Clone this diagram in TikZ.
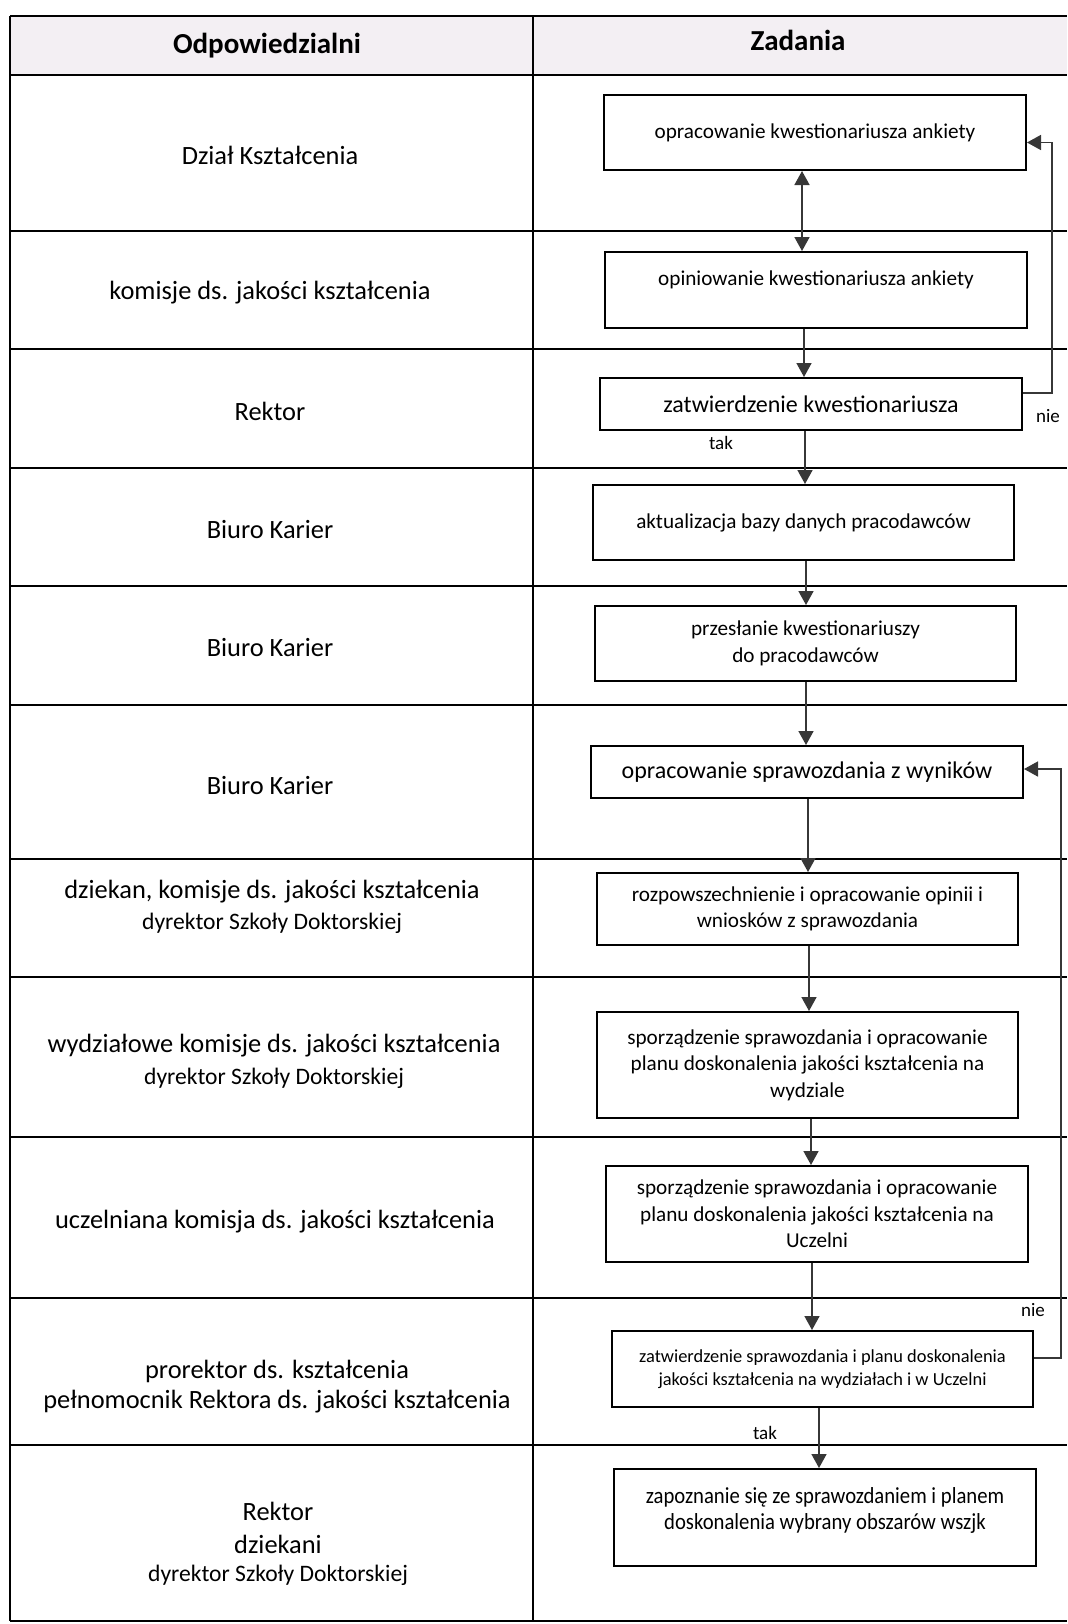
\documentclass[tikz,border=0pt]{standalone}
\usepackage{fontspec}
\setmainfont{Carlito}
\newfontfamily\narrowfont[FakeStretch=0.9]{Carlito}
\usetikzlibrary{arrows.meta}
\definecolor{hdr}{RGB}{243,239,243}
\definecolor{arrc}{RGB}{55,55,55}
\tikzset{
  task/.style={draw, line width=1pt, align=center, inner sep=0pt,
    font=\fontsize{10.6}{13.2}\selectfont},
  bigtask/.style={task, font=\fontsize{12}{14.5}\selectfont},
  arr/.style={draw=arrc, line width=0.8pt, -{Triangle[width=7.5pt,length=7pt]}},
  darr/.style={draw=arrc, line width=0.8pt, {Triangle[width=7.5pt,length=7pt]}-{Triangle[width=7.5pt,length=7pt]}},
  gridline/.style={line width=0.8pt},
  who/.style={inner sep=0pt, font=\fontsize{13.2}{15.5}\selectfont},
  whos/.style={inner sep=0pt, font=\fontsize{11.8}{14}\selectfont},
  hd/.style={inner sep=0pt, font=\fontsize{14.5}{17}\selectfont\bfseries},
  lbl/.style={inner sep=0pt, font=\fontsize{9.5}{11}\selectfont}
}
\begin{document}
\begin{tikzpicture}[x=0.5pt,y=-0.5pt]
\useasboundingbox (0,0) rectangle (1067,1624);
% table
\fill[hdr] (10,16) rectangle (1067,75);
\foreach \yy in {16,75,231,349,468,586,705,859,977,1137,1298,1445,1621}
  \draw[gridline] (10,\yy) -- (1067,\yy);
\draw[gridline] (10,16) -- (10,1621);
\draw[gridline] (533,16) -- (533,1621);
% header
\node[hd] (h1) at (267,46) {Odpowiedzialni};
\node[hd] (h2) at (798,40) {Zadania};
% left column
\node[who] (w1) at (270,155) {Dział Kształcenia};
\node[who] (w2) at (270,293) {komisje ds. jakości kształcenia};
\node[who] (w3) at (270,411) {Rektor};
\node[who] (w4) at (270,530) {Biuro Karier};
\node[who] (w5) at (270,648) {Biuro Karier};
\node[who] (w6) at (270,786) {Biuro Karier};
\node[who] (w7a) at (272,892) {dziekan, komisje ds. jakości kształcenia};
\node[whos] (w7b) at (272,923) {dyrektor Szkoły Doktorskiej};
\node[who] (w8a) at (274,1046) {wydziałowe komisje ds. jakości kształcenia};
\node[whos] (w8b) at (274,1078) {dyrektor Szkoły Doktorskiej};
\node[who] (w9) at (275,1222) {uczelniana komisja ds. jakości kształcenia};
\node[who] (w10a) at (277,1371) {prorektor ds. kształcenia};
\node[who] (w10b) at (277,1402) {pełnomocnik Rektora ds. jakości kształcenia};
\node[who] (w11a) at (278,1511) {Rektor};
\node[who] (w11b) at (278,1544) {dziekani};
\node[whos] (w11c) at (278,1575) {dyrektor Szkoły Doktorskiej};
% task boxes
\node[task, minimum width=211pt, minimum height=37.5pt] (b1) at (815,132.5)
  {opracowanie kwestionariusza ankiety};
\node[task, minimum width=211pt, minimum height=38pt] (b2) at (816,290)
  {opiniowanie kwestionariusza ankiety\\[-1pt]\mbox{}};
\node[bigtask, minimum width=211pt, minimum height=26pt] (b3) at (811,404)
  {zatwierdzenie kwestionariusza};
\node[task, minimum width=210.5pt, minimum height=37.5pt] (b4) at (803.5,522.5)
  {aktualizacja bazy danych pracodawców};
\node[task, minimum width=210.5pt, minimum height=37.5pt] (b5) at (805.5,643.5)
  {przesłanie kwestionariuszy\\do pracodawców};
\node[bigtask, minimum width=216pt, minimum height=26pt] (b6) at (807,772)
  {opracowanie sprawozdania z wyników};
\node[task, minimum width=210.5pt, minimum height=36pt] (b7) at (807.5,909)
  {rozpowszechnienie i opracowanie opinii i\\wniosków z sprawozdania};
\node[task, minimum width=210.5pt, minimum height=53pt] (b8) at (807.5,1065)
  {sporządzenie sprawozdania i opracowanie\\planu doskonalenia jakości kształcenia na\\wydziale};
\node[task, minimum width=211pt, minimum height=48pt] (b9) at (817,1214)
  {sporządzenie sprawozdania i opracowanie\\planu doskonalenia jakości kształcenia na\\Uczelni};
\node[task, minimum width=210.5pt, minimum height=38pt, font=\fontsize{9.2}{11.2}\selectfont] (b10) at (822.5,1369)
  {zatwierdzenie sprawozdania i planu doskonalenia\\jakości kształcenia na wydziałach i w Uczelni};
\node[task, minimum width=211pt, minimum height=48.5pt, font=\narrowfont\fontsize{11.5}{13}\selectfont] (b11) at (825,1517.5)
  {zapoznanie się ze sprawozdaniem i planem\\doskonalenia wybrany obszarów wszjk\\[-3.5pt]\mbox{}};
% connectors
\draw[darr] ([xshift=-6.5pt]b1.south) -- ([xshift=-6.5pt]b1.south |- b2.north);
\draw[arr] ([xshift=-6pt]b2.south) -- ([xshift=-6pt]b2.south |- b3.north);
\draw[arr] ([xshift=-3pt]b3.south) -- ([xshift=-3pt]b3.south |- b4.north);
\draw[arr] ([xshift=1.25pt]b4.south) -- ([xshift=1.25pt]b4.south |- b5.north);
\draw[arr] ([xshift=0.25pt]b5.south) -- ([xshift=0.25pt]b5.south |- b6.north);
\draw[arr] ([xshift=0.5pt]b6.south) -- ([xshift=0.5pt]b6.south |- b7.north);
\draw[arr] ([xshift=0.75pt]b7.south) -- ([xshift=0.75pt]b7.south |- b8.north);
\draw[arr] ([xshift=1.75pt]b8.south) -- ([xshift=1.75pt]b8.south |- b9.north);
\draw[arr] ([xshift=-2.5pt]b9.south) -- ([xshift=-2.5pt]b9.south |- b10.north);
\draw[arr] ([xshift=-1.75pt]b10.south) -- ([xshift=-1.75pt]b10.south |- b11.north);
% feedback loops
\draw[arr] ([yshift=5.5pt]b3.east) -- ++(29,0) |- ([yshift=-5pt]b1.east);
\draw[arr] ([yshift=5.5pt]b10.east) -- ++(27,0) |- ([yshift=1.5pt]b6.east);
% labels
\node[lbl] (n1) at (1048,416) {nie};
\node[lbl] (t1) at (721,443) {tak};
\node[lbl] (n2) at (1033,1310) {nie};
\node[lbl] (t2) at (765,1433) {tak};
\end{tikzpicture}
\end{document}
